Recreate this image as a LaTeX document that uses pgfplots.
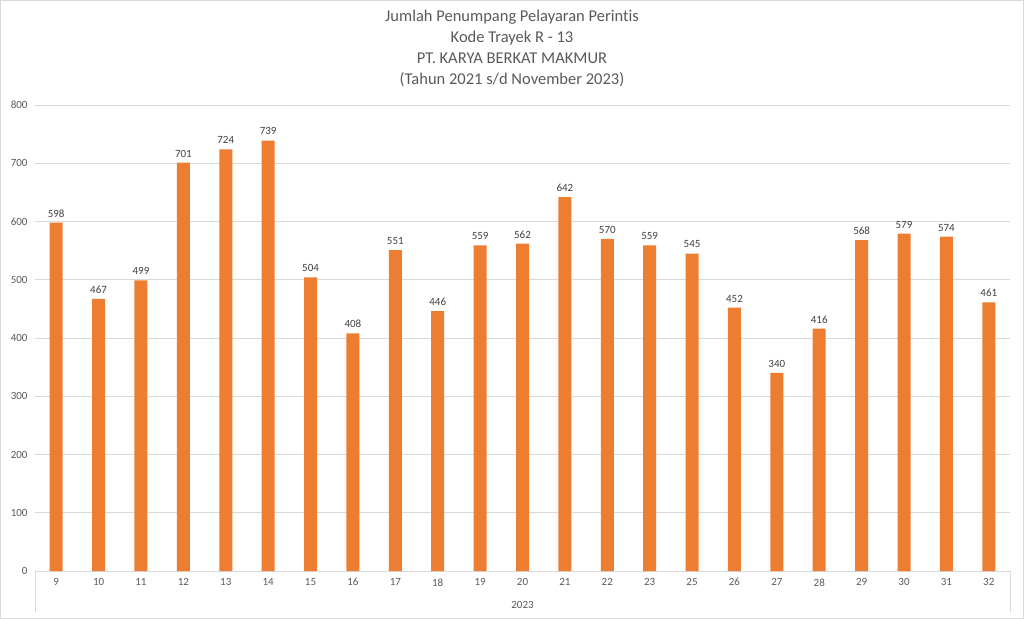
\documentclass[border=0pt]{standalone}
\usepackage{fontspec}
\setmainfont{Carlito}[Ligatures=NoCommon]
\usepackage{pgfplots}
\pgfplotsset{compat=1.18}
\definecolor{barorange}{HTML}{ED7D31}
\definecolor{gridgray}{HTML}{D9D9D9}
\definecolor{txtgray}{HTML}{595959}
\definecolor{lblgray}{HTML}{404040}
\begin{document}
\begin{tikzpicture}
\useasboundingbox (0,0) rectangle (1024bp,619bp);
\draw[gridgray, line width=0.8bp] (0.5bp,0.5bp) rectangle (1023.5bp,618.5bp);
\node[txtgray, font=\fontsize{16.5bp}{21bp}\selectfont, align=center, anchor=north, inner sep=0pt] at (512bp,609bp)
  {Jumlah Penumpang Pelayaran Perintis\\Kode Trayek R - 13\\PT. KARYA BERKAT MAKMUR\\(Tahun 2021 s/d November 2023)};
\begin{axis}[
  at={(35bp,48bp)}, anchor=south west,
  scale only axis, width=975bp, height=466bp,
  xmin=-0.5, xmax=22.5, ymin=0, ymax=800,
  ytick={0,100,...,800},
  xtick={0,...,22},
  xticklabels={9,10,11,12,13,14,15,16,17,18,19,20,21,22,23,25,26,27,28,29,30,31,32},
  ymajorgrids, grid style={gridgray, line width=0.8bp},
  axis x line*=bottom, axis y line*=left,
  x axis line style={gridgray, line width=0.8bp, -},
  y axis line style={draw=none},
  major tick length=0pt,
  /pgf/number format/assume math mode=true,
  ticklabel style={txtgray, font=\fontsize{11bp}{12bp}\selectfont},
  xticklabel style={yshift=-4bp},
  yticklabel style={xshift=-4bp},
  clip=false,
  nodes near coords,
  every node near coord/.append style={lblgray, font=\fontsize{11bp}{12bp}\selectfont, yshift=2bp},
]
\addplot[ybar, bar width=13bp, fill=barorange, draw=none] coordinates {
(0,598) (1,467) (2,499) (3,701) (4,724) (5,739) (6,504) (7,408) (8,551) (9,446) (10,559) (11,562)
(12,642) (13,570) (14,559) (15,545) (16,452) (17,340) (18,416) (19,568) (20,579) (21,574) (22,461)};
\draw[gridgray, line width=0.8bp] (rel axis cs:0,0) -- ([yshift=-41bp]rel axis cs:0,0);
\draw[gridgray, line width=0.8bp] (rel axis cs:1,0) -- ([yshift=-41bp]rel axis cs:1,0);
\node[txtgray, font=\fontsize{11bp}{12bp}\selectfont] at ([yshift=-34bp]rel axis cs:0.5,0) {2023};
\end{axis}
\end{tikzpicture}
\end{document}
